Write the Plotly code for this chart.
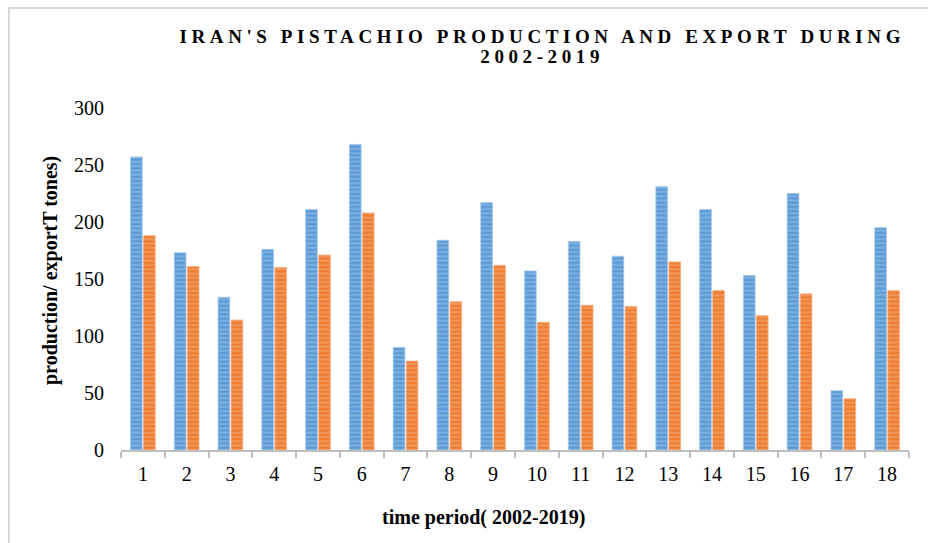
import plotly.graph_objects as go

# Iran pistachio production and export, thousand tonnes, periods 1..18 (2002-2019)
periods = [str(i) for i in range(1, 19)]
production = [257, 173, 134, 176, 211, 268, 90, 184, 217, 157, 183, 170, 231, 211, 153, 225, 52, 195]
export = [188, 161, 114, 160, 171, 208, 78, 130, 162, 112, 127, 126, 165, 140, 118, 137, 45, 140]
y_ticks = [0, 50, 100, 150, 200, 250, 300]
title_lines = ["IRAN'S PISTACHIO PRODUCTION AND EXPORT DURING", "2002-2019"]

SERIF = "Liberation Serif"

W, H = 928, 543
M_L, M_R, M_T, M_B = 121, 19, 108, 93
PW, PH = W - M_L - M_R, H - M_T - M_B


def px_x(x):
    return (x - M_L) / PW


def px_y(y):
    return (H - M_B - y) / PH


def striped(base, stripe):
    return dict(
        color=base,
        line=dict(color=stripe, width=0.8),
        pattern=dict(shape="-", fgcolor=stripe, bgcolor=base, size=4.3, solidity=0.45, fillmode="overlay"),
    )


fig = go.Figure()
fig.add_trace(go.Bar(x=periods, y=production, name="production",
                     marker=striped("#5b9bd5", "#a3c7ec")))
fig.add_trace(go.Bar(x=periods, y=export, name="export",
                     marker=striped("#ed7d31", "#f6b385")))

title_annotations = [
    dict(text=line, xref="paper", yref="paper", x=px_x(542), y=px_y(yc),
         xanchor="center", yanchor="middle", showarrow=False,
         font=dict(family=SERIF, size=19, color="#000000", weight="bold"))
    for line, yc in zip(title_lines, [36, 57])
]

fig.update_layout(
    width=W, height=H,
    margin=dict(l=M_L, r=M_R, t=M_T, b=M_B),
    paper_bgcolor="white", plot_bgcolor="white",
    barmode="group", bargap=0.405, bargroupgap=0.1,
    showlegend=False,
    font=dict(family=SERIF, color="#000000", size=20),
    xaxis=dict(
        type="category", showgrid=False, zeroline=False,
        showline=True, linecolor="#bfbfbf", linewidth=2,
        ticks="outside", tickson="boundaries", ticklen=6, tickwidth=2, tickcolor="#bfbfbf",
        ticklabelstandoff=5,
        tickfont=dict(family=SERIF, size=20, color="#000000"),
    ),
    yaxis=dict(
        range=[0, 300], tickvals=y_ticks, showgrid=False, zeroline=False,
        showline=False, ticks="", ticklabelstandoff=16,
        tickfont=dict(family=SERIF, size=20, color="#000000"),
    ),
    annotations=title_annotations + [
        dict(text="production/ exportT tones)", textangle=-90,
             xref="paper", yref="paper", x=px_x(50), y=px_y(271),
             xanchor="center", yanchor="middle", showarrow=False,
             font=dict(family=SERIF, size=20, color="#000000", weight="bold")),
        dict(text="time period( 2002-2019)",
             xref="paper", yref="paper", x=px_x(483), y=px_y(517),
             xanchor="center", yanchor="middle", showarrow=False,
             font=dict(family=SERIF, size=20, color="#000000", weight="bold")),
    ],
    shapes=[
        dict(type="rect", xref="paper", yref="paper",
             x0=px_x(9), x1=px_x(W + 20), y0=px_y(H + 20), y1=px_y(8),
             line=dict(color="#d9d9d9", width=2), fillcolor="rgba(0,0,0,0)", layer="below"),
    ],
)

# widen the letter spacing of the two chart title lines
spacing_js = """
var lines = %s;
document.querySelectorAll('.annotation-text').forEach(function(n){
  if (lines.indexOf(n.textContent) >= 0) {
    n.style.letterSpacing = '4.6px';
  }
});
""" % str(title_lines).replace("\"", "'").replace("IRAN'S", "IRAN\\'S")

fig.write_html("out.html", post_script=spacing_js)
